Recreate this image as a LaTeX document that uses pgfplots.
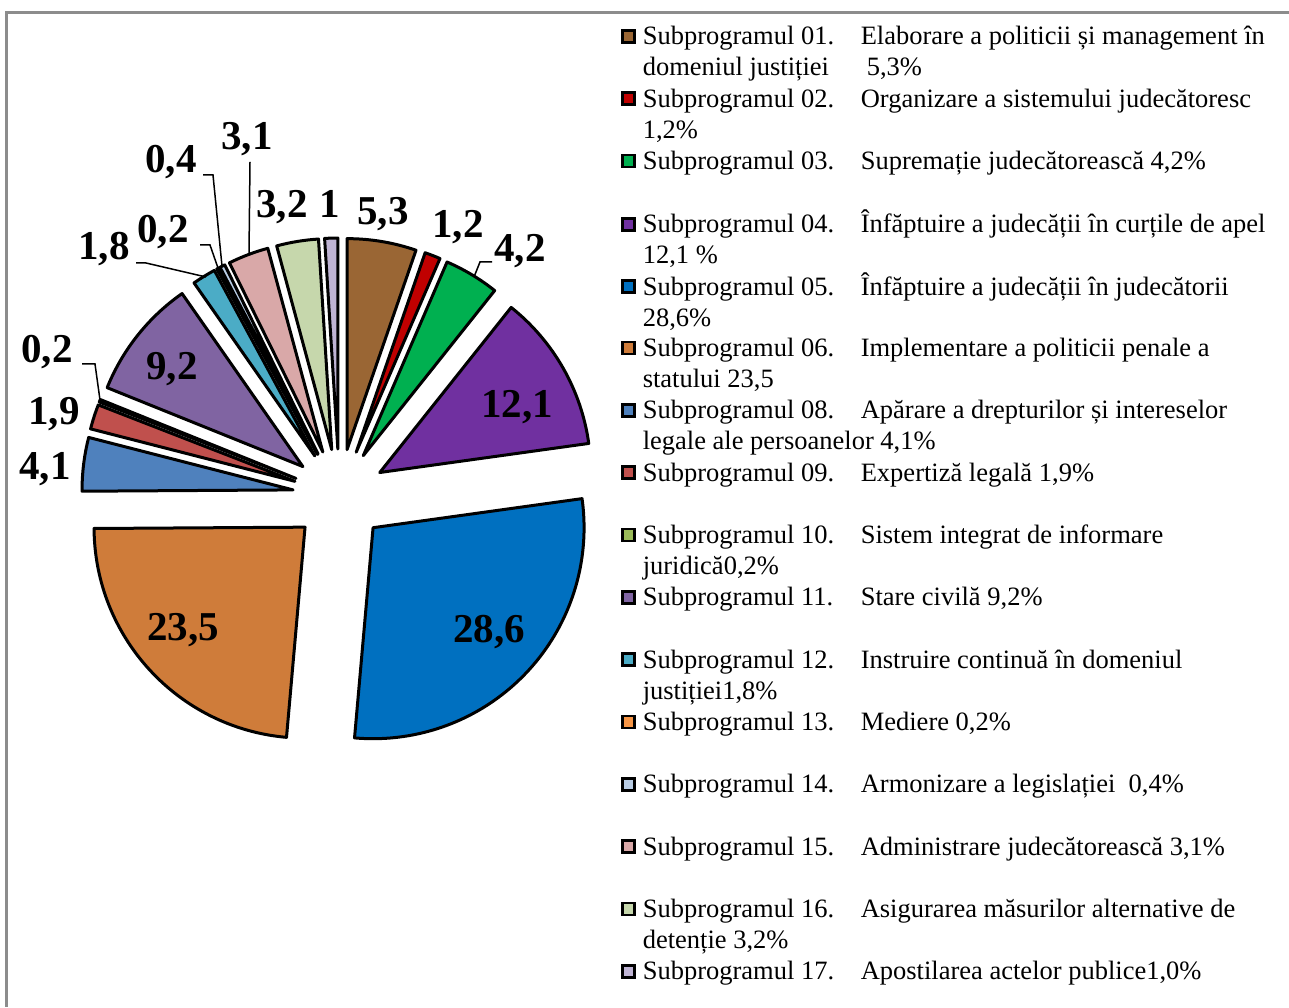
\documentclass[border=0pt]{standalone}
\usepackage{pgfplots}
\pgfplotsset{compat=1.18}
\usepackage{pgfplotstable}
\usepackage{fontspec}
\setmainfont{Liberation Serif}

\definecolor{c01}{HTML}{9A6634}
\definecolor{c02}{HTML}{C00000}
\definecolor{c03}{HTML}{00B050}
\definecolor{c04}{HTML}{7030A0}
\definecolor{c05}{HTML}{0070C0}
\definecolor{c06}{HTML}{CF7C3A}
\definecolor{c08}{HTML}{4F81BD}
\definecolor{c09}{HTML}{C0504D}
\definecolor{c10}{HTML}{9BBB59}
\definecolor{c11}{HTML}{8064A2}
\definecolor{c12}{HTML}{4BACC6}
\definecolor{c13}{HTML}{F79646}
\definecolor{c14}{HTML}{B9CDE5}
\definecolor{c15}{HTML}{D9A8A8}
\definecolor{c16}{HTML}{C6D7AC}
\definecolor{c17}{HTML}{BFB4D4}
\definecolor{framegray}{HTML}{8C8C8C}

\pgfplotstableread{
sub value colour
01 5.3 c01
02 1.2 c02
03 4.2 c03
04 12.1 c04
05 28.6 c05
06 23.5 c06
08 4.1 c08
09 1.9 c09
10 0.2 c10
11 9.2 c11
12 1.8 c12
13 0.2 c13
14 0.4 c14
15 3.1 c15
16 3.2 c16
17 1.0 c17
}\pietable

\pgfplotsset{sqleg/.style={legend image code/.code={\filldraw[##1,draw=black,line width=2.6pt] (0pt,2.5pt) rectangle (12pt,14.5pt);}}}
\newcommand\ent[2]{\parbox[t][62.33pt][t]{650pt}{\raggedright\strut\makebox[218pt][l]{Subprogramul #1.}#2}}
\newcommand\lab[3]{\node[anchor=base,font=\fontsize{41}{41}\selectfont\bfseries,inner sep=0pt] at (axis cs:#1,{1007-#2}) {#3};}
\newcommand\lead[1]{\draw[black,line width=1.5pt] #1;}

\begin{document}
\begin{tikzpicture}
\begin{axis}[
  scale only axis, width=1289pt, height=1007pt,
  xmin=0, xmax=1289, ymin=0, ymax=1007,
  hide axis, clip=false,
  legend style={at={(axis description cs:0.48177,0.97736)}, anchor=north west,
    draw=none, fill=none, inner sep=0pt, row sep=0pt, column sep=7pt,
    font=\fontsize{26.5}{31.17}\selectfont,
    nodes={inner sep=0pt, text depth=},
    cells={anchor=base west}},
]
% frame
\draw[framegray, line width=2.5pt] (axis cs:1289,994.5) -- (axis cs:6.5,994.5) -- (axis cs:6.5,0);
% pie slices
\gdef\cum{0}
\pgfplotsforeachungrouped \i in {0,...,15}{%
  \pgfplotstablegetelem{\i}{value}\of\pietable \let\val\pgfplotsretval
  \pgfplotstablegetelem{\i}{colour}\of\pietable \let\col\pgfplotsretval
  \pgfmathsetmacro\tA{90-3.6*\cum}%
  \pgfmathsetmacro\tB{90-3.6*(\cum+\val)}%
  \pgfmathsetmacro\tM{(\tA+\tB)/2}%
  \pgfmathsetmacro\ax{339.3+46.6*cos(\tM)}%
  \pgfmathsetmacro\ay{511.4+46.6*sin(\tM)}%
  \edef\temp{\noexpand\filldraw[fill=\col,draw=black,line width=3pt,line join=round] (axis cs:\ax,\ay) -- ++(\tA:211pt) arc[start angle=\tA,end angle=\tB,radius=211pt] -- cycle;}%
  \temp
  \pgfmathsetmacro\cumnew{\cum+\val}%
  \global\let\cum\cumnew
}
% leader lines
\lead{(axis cs:474,730) -- (axis cs:480,745) -- (axis cs:492,745)}
\lead{(axis cs:100,607) -- (axis cs:95,643) -- (axis cs:82,643)}
\lead{(axis cs:206,730) -- (axis cs:146,744) -- (axis cs:136,744)}
\lead{(axis cs:218,739) -- (axis cs:210,762) -- (axis cs:200,762)}
\lead{(axis cs:222,741) -- (axis cs:213,832) -- (axis cs:203,832)}
\lead{(axis cs:249,753) -- (axis cs:250,845)}
% data labels
\lab{489}{643}{28,6}
\lab{183}{641}{23,5}
\lab{517}{418}{12,1}
\lab{172}{380}{9,2}
\lab{45}{480}{4,1}
\lab{54}{425}{1,9}
\lab{47}{363}{0,2}
\lab{104}{260}{1,8}
\lab{163}{243}{0,2}
\lab{171}{173}{0,4}
\lab{247}{150}{3,1}
\lab{282}{218}{3,2}
\lab{330}{218}{1}
\lab{383}{225}{5,3}
\lab{458}{238}{1,2}
\lab{520}{262}{4,2}
% legend
\addlegendimage{sqleg, fill=c01}
\addlegendentry{\ent{01}{Elaborare a politicii și management în\newline \makebox[224pt][l]{domeniul justiției}5,3\%}}
\addlegendimage{sqleg, fill=c02}
\addlegendentry{\ent{02}{Organizare a sistemului judecătoresc\newline 1,2\%}}
\addlegendimage{sqleg, fill=c03}
\addlegendentry{\ent{03}{Supremație judecătorească 4,2\%}}
\addlegendimage{sqleg, fill=c04}
\addlegendentry{\ent{04}{Înfăptuire a judecății în curțile de apel\newline 12,1 \%}}
\addlegendimage{sqleg, fill=c05}
\addlegendentry{\ent{05}{Înfăptuire a judecății în judecătorii\newline 28,6\%}}
\addlegendimage{sqleg, fill=c06}
\addlegendentry{\ent{06}{Implementare a politicii penale a\newline statului 23,5}}
\addlegendimage{sqleg, fill=c08}
\addlegendentry{\ent{08}{Apărare a drepturilor și intereselor\newline legale ale persoanelor 4,1\%}}
\addlegendimage{sqleg, fill=c09}
\addlegendentry{\ent{09}{Expertiză legală 1,9\%}}
\addlegendimage{sqleg, fill=c10}
\addlegendentry{\ent{10}{Sistem integrat de informare\newline juridică0,2\%}}
\addlegendimage{sqleg, fill=c11}
\addlegendentry{\ent{11}{Stare civilă 9,2\%}}
\addlegendimage{sqleg, fill=c12}
\addlegendentry{\ent{12}{Instruire continuă în domeniul\newline justiției1,8\%}}
\addlegendimage{sqleg, fill=c13}
\addlegendentry{\ent{13}{Mediere 0,2\%}}
\addlegendimage{sqleg, fill=c14}
\addlegendentry{\ent{14}{Armonizare a legislației \ 0,4\%}}
\addlegendimage{sqleg, fill=c15}
\addlegendentry{\ent{15}{Administrare judecătorească 3,1\%}}
\addlegendimage{sqleg, fill=c16}
\addlegendentry{\ent{16}{Asigurarea măsurilor alternative de\newline detenție 3,2\%}}
\addlegendimage{sqleg, fill=c17}
\addlegendentry{\ent{17}{Apostilarea actelor publice1,0\%}}
\end{axis}
\pgfresetboundingbox
\path (current axis.south west) rectangle (current axis.north east);
\end{tikzpicture}
\end{document}
